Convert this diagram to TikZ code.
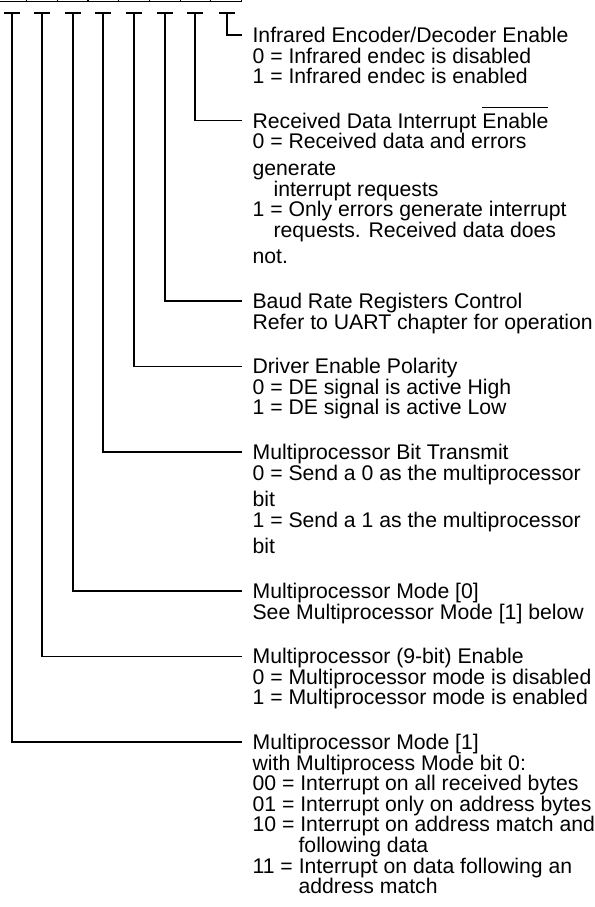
\documentclass[tikz,border=0pt]{standalone}
\usepackage{fontspec}
\setmainfont{Liberation Sans}
\newcommand\ovlbar[1]{\setbox0\hbox{#1}\rlap{\raisebox{20.5pt}{\rule{\wd0}{1.2pt}}}\box0}
\begin{document}
\begin{tikzpicture}[x=1pt,y=-1pt,line width=1.2pt,
  cell/.style={draw,line width=1.2pt,minimum width=30.7pt,minimum height=30pt,inner sep=0pt,anchor=south west},
  desc/.style={anchor=base west,inner sep=0pt,font=\fontsize{21.2}{20.6}\selectfont},
  lead/.style={line width=1.2pt}]
\useasboundingbox (0,0) rectangle (594,907);
\clip (0,0) rectangle (594,907);
% register cells (bit 7 .. bit 0)
\node[cell] (r7) at (-4.7,2.3) {};
\node[cell] (r6) at (26,2.3) {};
\node[cell] (r5) at (56.7,2.3) {};
\node[cell] (r4) at (87.4,2.3) {};
\node[cell] (r3) at (118.1,2.3) {};
\node[cell] (r2) at (148.8,2.3) {};
\node[cell] (r1) at (179.5,2.3) {};
\node[cell] (r0) at (210.2,2.3) {};
% T tops
\coordinate (t7) at (12,13);
\coordinate (t6) at (42,13);
\coordinate (t5) at (73,13);
\coordinate (t4) at (103,13);
\coordinate (t3) at (134,13);
\coordinate (t2) at (165,13);
\coordinate (t1) at (195,13);
\coordinate (t0) at (227,13);
\foreach \t in {t0,t1,t2,t3,t4,t5,t6,t7}
  \draw[lead] ([xshift=-8pt]\t) -- ([xshift=8pt]\t);
% connector ends
\coordinate (e0) at (242,35);
\coordinate (e1) at (242,120.8);
\coordinate (e2) at (242,301);
\coordinate (e3) at (242,366.2);
\coordinate (e4) at (242,452);
\coordinate (e5) at (242,591);
\coordinate (e6) at (242,656.2);
\coordinate (e7) at (242,742);
\foreach \i in {0,...,7}
  \draw[lead] (t\i) |- (e\i);
% descriptions
\node[desc] (d0) at (252,42.5) {\parbox[t]{400pt}{Infrared Encoder/Decoder Enable\\
0 = Infrared endec is disabled\\
1 = Infrared endec is enabled}};
\node[desc] (d1) at (252,128.3) {\parbox[t]{400pt}{Received Data Interrupt \ovlbar{Enable}\\
0 = Received data and errors\\[6pt]
generate\\
\hspace*{21pt}interrupt requests\\
1 = Only errors generate interrupt\\
\hspace*{21pt}requests. Received data does\\[6pt]
not.}};
\node[desc] (d2) at (252,308.5) {\parbox[t]{400pt}{Baud Rate Registers Control\\
Refer to UART chapter for operation}};
\node[desc] (d3) at (252,373.7) {\parbox[t]{400pt}{Driver Enable Polarity\\
0 = DE signal is active High\\
1 = DE signal is active Low}};
\node[desc] (d4) at (252,459.5) {\parbox[t]{400pt}{Multiprocessor Bit Transmit\\
0 = Send a 0 as the multiprocessor\\[6pt]
bit\\
1 = Send a 1 as the multiprocessor\\[6pt]
bit}};
\node[desc] (d5) at (252,598.5) {\parbox[t]{400pt}{Multiprocessor Mode [0]\\
See Multiprocessor Mode [1] below}};
\node[desc] (d6) at (252,663.7) {\parbox[t]{400pt}{Multiprocessor (9-bit) Enable\\
0 = Multiprocessor mode is disabled\\
1 = Multiprocessor mode is enabled}};
\node[desc] (d7) at (252,749.5) {\parbox[t]{400pt}{Multiprocessor Mode [1]\\
with Multiprocess Mode bit 0:\\
00 = Interrupt on all received bytes\\
01 = Interrupt only on address bytes\\
10 = Interrupt on address match and\\
\hspace*{46pt}following data\\
11 = Interrupt on data following an\\
\hspace*{46pt}address match}};
\end{tikzpicture}
\end{document}
